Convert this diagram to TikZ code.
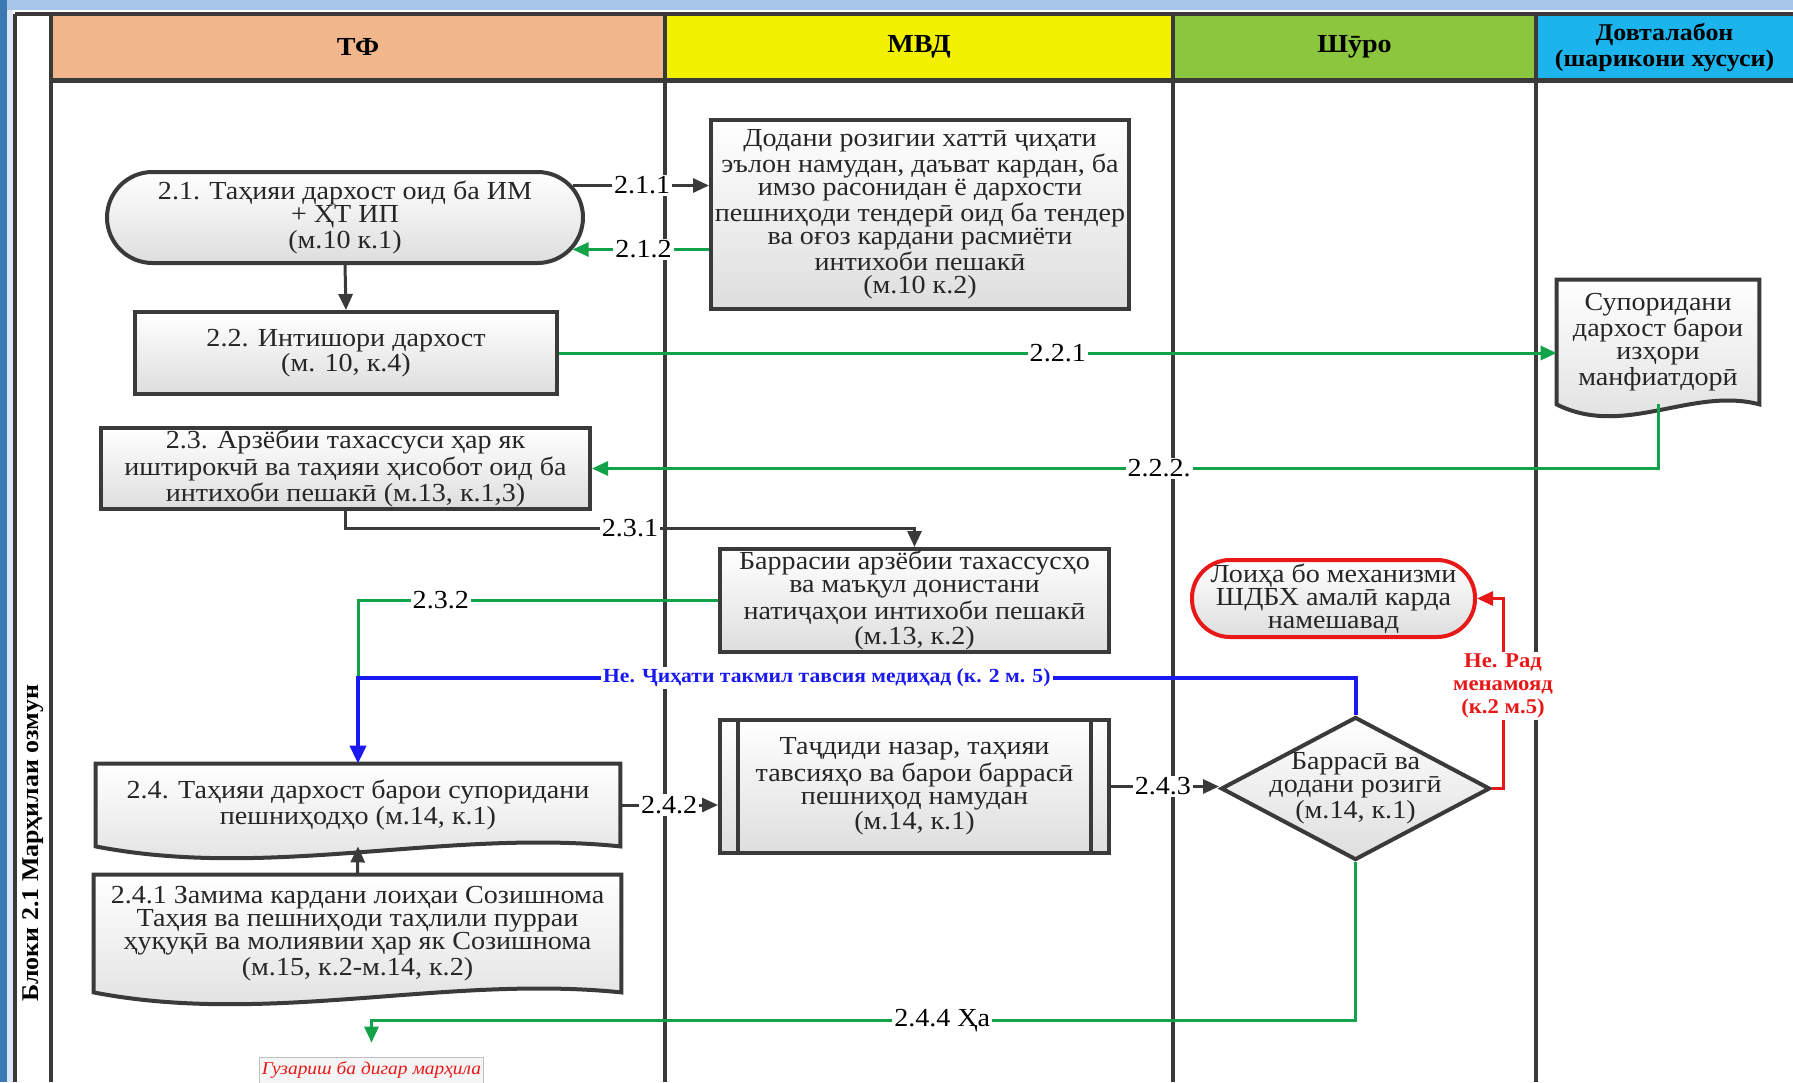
\documentclass[tikz,border=0pt]{standalone}
\usepackage{fontspec}
\setmainfont{Liberation Serif}[FakeStretch=1.08]
\usetikzlibrary{positioning,calc,arrows.meta,shapes.misc,shapes.geometric,backgrounds}

\definecolor{lanegray}{HTML}{3A3A3A}
\definecolor{hdrtf}{HTML}{F2B68C}
\definecolor{hdrmvd}{HTML}{F2F200}
\definecolor{hdrshuro}{HTML}{8CC63E}
\definecolor{hdrdov}{HTML}{1CB4EC}
\definecolor{flowgreen}{HTML}{12A24A}
\definecolor{flowblue}{HTML}{1A1AF0}
\definecolor{flowred}{HTML}{E81818}
\definecolor{scrblue}{HTML}{3C78B4}
\definecolor{scrsky}{HTML}{A8C6EA}

\newcommand\txt{\fontsize{13}{11.5}\selectfont}
\newcommand\hdr{\fontsize{13}{13}\selectfont\bfseries}

\tikzset{
  lane/.style={draw=lanegray, line width=2pt},
  hdrcell/.style={rectangle, minimum height=33pt, inner sep=0pt, font=\hdr, align=center},
  boxline/.style={draw=lanegray, line width=2pt},
  boxfill/.style={top color=white, bottom color=black!13},
  proc/.style={rectangle, boxline, boxfill, inner sep=1pt, align=center, font=\txt, text=black!85},
  term/.style={rounded rectangle, boxline, boxfill, inner sep=1pt, align=center, font=\txt, text=black!85},
  stopbox/.style={rectangle, rounded corners=19pt, draw=flowred, line width=2pt, boxfill, inner sep=0pt, align=center, font=\txt, text=black!85},
  docnode/.style={rectangle, inner sep=1pt, align=center, font=\txt, text=black!85},
  decide/.style={diamond, boxline, boxfill, aspect=1.88, inner sep=-8pt, align=center, font=\txt, text=black!85},
  lbl/.style={fill=white, inner sep=1pt, font=\txt, text=black},
  arr/.style={-{Triangle[length=8pt,width=7pt]}},
  flow/.style={draw=lanegray, line width=1.5pt, arr},
  gflow/.style={draw=flowgreen, line width=1.5pt},
  bflow/.style={draw=flowblue, line width=2pt, -{Triangle[length=9pt,width=8pt]}},
  rflow/.style={draw=flowred, line width=1.5pt, arr}
}

% wavy bottom of a document node
\newcommand\docoutline[1]{%
  \begin{scope}[on background layer]
    \draw[boxline, boxfill] (#1.north west) -- (#1.north east) -- (#1.south east)
      .. controls ($(#1.south west)!0.667!(#1.south east)+(0,-18)$)
      and ($(#1.south west)!0.333!(#1.south east)+(0,34)$) .. (#1.south west) -- cycle;
  \end{scope}}

\begin{document}
\begin{tikzpicture}[x=0.5pt,y=-0.5pt]
\useasboundingbox (0,0) rectangle (1793,1082);
\begin{scope}[on background layer]
  \fill[white] (0,0) rectangle (1793,1082);
  \fill[scrsky] (0,0) rectangle (1793,10);
  \fill[scrblue] (0,0) rectangle (7,1082);
  \fill[scrsky!40] (7,10) rectangle (13,1082);
\end{scope}

% lanes
\node[hdrcell, fill=hdrtf, minimum width=307pt] (hTF) at (358,47) {ТФ};
\node[hdrcell, fill=hdrmvd, minimum width=254pt] (hMVD) at (919,47) {МВД};
\node[hdrcell, fill=hdrshuro, minimum width=181.5pt] (hShuro) at (1354.5,47) {Шӯро};
\node[hdrcell, fill=hdrdov, minimum width=128.5pt, font=\fontsize{12}{13}\selectfont\bfseries] (hDov) at (1664.5,47) {Довталабон\\(шарикони хусуси)};
\foreach \x in {15,51,665,1173,1536}
  \draw[lane] (\x,14) -- (\x,1082);
\draw[lane] (15,14) -- (1793,14);
\draw[lane, line width=2.5pt] (51,80) -- (1793,80);
\node[font=\fontsize{12}{12}\selectfont\bfseries, rotate=90] (blk) at (33,843) {Блоки 2.1 Марҳилаи озмун};

% steps
\node[term, minimum width=240pt, minimum height=45.5pt] (n21) at (345,217.5)
  {2.1. Таҳияи дархост оид ба ИМ\\+ ҲТ ИП\\(м.10 к.1)};
\node[proc, minimum width=209pt, minimum height=94.5pt] (mvd1) at (920,214.5)
  {Додани розигии хаттӣ ҷиҳати\\эълон намудан, даъват кардан, ба\\имзо расонидан ё дархости\\пешниҳоди тендерӣ оид ба тендер\\ва оғоз кардани расмиёти\\интихоби пешакӣ\\(м.10 к.2)};
\node[proc, minimum width=211pt, minimum height=41pt] (n22) at (346,353)
  {2.2. Интишори дархост\\(м. 10, к.4)};
\node[docnode, minimum width=101pt, minimum height=62pt] (dov) at (1658,342)
  {Супоридани\\дархост барои\\изҳори\\манфиатдорӣ};
\docoutline{dov}
\node[proc, minimum width=244.5pt, minimum height=40.5pt] (n23) at (345.5,468.5)
  {2.3. Арзёбии тахассуси ҳар як\\иштирокчӣ ва таҳияи ҳисобот оид ба\\интихоби пешакӣ (м.13, к.1,3)};
\node[proc, minimum width=194.5pt, minimum height=51.5pt] (barr) at (914.5,600.5)
  {Баррасии арзёбии тахассусҳо\\ва маъқул донистани\\натиҷаҳои интихоби пешакӣ\\(м.13, к.2)};
\node[stopbox, minimum width=141.5pt, minimum height=38.5pt] (loi) at (1333.5,598.5)
  {Лоиҳа бо механизми\\ШДБХ амалӣ карда\\намешавад};
\node[docnode, minimum width=262pt, minimum height=41pt] (n24) at (358,805)
  {2.4. Таҳияи дархост барои супоридани\\пешниҳодҳо (м.14, к.1)};
\docoutline{n24}
\node[proc, minimum width=194.5pt, minimum height=66.5pt] (tajd) at (914.5,786.5)
  {Таҷдиди назар, таҳияи\\тавсияҳо ва барои баррасӣ\\пешниҳод намудан\\(м.14, к.1)};
\draw[boxline] ($(tajd.north west)+(20,0)$) -- ($(tajd.south west)+(20,0)$);
\draw[boxline] ($(tajd.north east)+(-20,0)$) -- ($(tajd.south east)+(-20,0)$);
\node[decide, minimum width=134.5pt, minimum height=71.5pt] (dia) at (1355.5,788.5)
  {Баррасӣ ва\\додани розигӣ\\(м.14, к.1)};
\node[docnode, minimum width=263.5pt, minimum height=58.5pt] (n241) at (357.5,933.5)
  {2.4.1 Замима кардани лоиҳаи Созишнома\\Таҳия ва пешниҳоди таҳлили пурраи\\ҳуқуқӣ ва молиявии ҳар як Созишнома\\(м.15, к.2-м.14, к.2)};
\docoutline{n241}
\node[font=\fontsize{9}{10}\selectfont\itshape, text=flowred, draw=black!25, fill=black!4,
  minimum width=108.5pt, minimum height=13pt, inner sep=1pt] (gzr) at (371.5,1070) {Гузариш ба дигар марҳила};

% flows
\draw[flow] (n21.8) -- (n21.8 -| mvd1.west) node[lbl, pos=0.51]{2.1.1};
\draw[gflow, arr] (n21.-8 -| mvd1.west) -- (n21.-8) node[lbl, pos=0.48]{2.1.2};
\draw[flow] (n21.south) -- (n22.north);
\draw[gflow, arr] (n22.east) -- (n22.east -| dov.west) node[lbl, midway]{2.2.1};
\draw[gflow, arr] (dov.south) |- node[lbl, pos=0.734]{2.2.2.} (n23.east);
\draw[flow] (n23.south) -- ++(0,17) -| node[lbl, pos=0.25]{2.3.1} (barr.north);
\coordinate (jn) at (358,678);
\draw[gflow] (barr.west) -| node[lbl, pos=0.385]{2.3.2} (jn);
\draw[bflow] (dia.north) |- node[lbl, pos=0.765, text=flowblue, font=\fontsize{10}{11}\selectfont\bfseries]
  {Не. Ҷиҳати такмил тавсия медиҳад (к. 2 м. 5)} (jn) -- (n24.north);
\draw[flow] (n24.east) -- (n24.east -| tajd.west) node[lbl, midway]{2.4.2};
\draw[flow] (n241.north) -- (n24.south);
\draw[flow] (tajd.east) -- (tajd.east -| dia.west) node[lbl, pos=0.48]{2.4.3};
\draw[rflow] (dia.east) -- ++(11,0) |- node[lbl, pos=0.27, align=center, text=flowred,
  font=\fontsize{10.5}{11.5}\selectfont\bfseries]{Не. Рад\\менамояд\\(к.2 м.5)} (loi.east);
\coordinate (bend) at ($(gzr.north)+(0,-36)$);
\draw[gflow, arr, shorten >=7pt] (dia.south) |- node[lbl, pos=0.71]{2.4.4 Ҳа} (bend) -- (gzr.north);
\end{tikzpicture}
\end{document}
